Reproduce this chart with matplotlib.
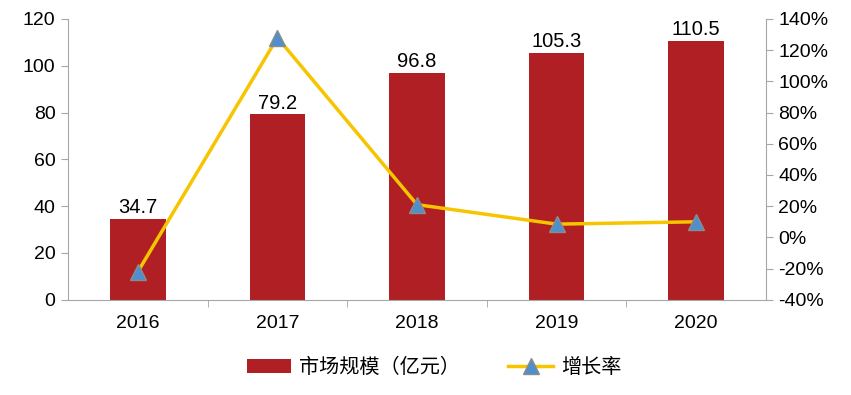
import matplotlib
matplotlib.use("Agg")
import matplotlib.pyplot as plt
import numpy as np

plt.rcParams['font.family'] = ['Liberation Sans', 'Noto Sans CJK SC', 'DejaVu Sans']

years = ["2016", "2017", "2018", "2019", "2020"]
market_size = [34.7, 79.2, 96.8, 105.3, 110.5]
growth_rate = [-22, 128, 21, 8.5, 10]  # percent

bar_color = "#B01F24"
line_color = "#F7C400"
marker_color = "#4F8FCB"
spine_color = "#A6A6A6"

fig = plt.figure(figsize=(8.51, 3.95), dpi=100)
ax = fig.add_axes([0.080, 0.241, 0.820, 0.711])
ax2 = ax.twinx()

x = np.arange(len(years))
bars = ax.bar(x, market_size, width=0.4, color=bar_color, label="市场规模（亿元）", zorder=2)
for xi, v in zip(x, market_size):
    ax.text(xi, v + 0.8, f"{v}", ha="center", va="bottom", fontsize=14.5)

ax.set_xlim(-0.5, len(years) - 0.5)
ax.set_ylim(0, 120)
ax.set_yticks(range(0, 121, 20))
ax.set_xticks(x)
ax.set_xticklabels(years)
ax.set_xticks(np.arange(0.5, len(years) - 1, 1), minor=True)
ax.tick_params(axis="x", which="major", length=0, labelsize=14, pad=11)
ax.tick_params(axis="x", which="minor", length=5, color=spine_color)
ax.tick_params(axis="y", length=5, color=spine_color, labelsize=14, pad=4)

ln, = ax2.plot(x, growth_rate, color=line_color, lw=2.5, marker="^", markersize=11,
               markerfacecolor=marker_color, markeredgecolor="#8C8C8C", markeredgewidth=1,
               label="增长率", zorder=3)
ax2.set_ylim(-40, 140)
ax2.set_yticks(range(-40, 141, 20))
ax2.set_yticklabels([f"{t}%" for t in range(-40, 141, 20)])
ax2.tick_params(axis="y", length=5, color=spine_color, labelsize=14, pad=4)

for a in (ax, ax2):
    a.spines["top"].set_visible(False)
    for s in ("left", "right", "bottom"):
        a.spines[s].set_color(spine_color)
ax.spines["right"].set_visible(False)
ax2.spines["left"].set_visible(False)
ax2.spines["bottom"].set_visible(False)

fig.legend(handles=[bars, ln], loc="center", bbox_to_anchor=(0.51, 0.07), ncol=2,
           frameon=False, fontsize=14.5, handlelength=2.2, columnspacing=2.4, handletextpad=0.4)

fig.savefig("out.png", dpi=100)
